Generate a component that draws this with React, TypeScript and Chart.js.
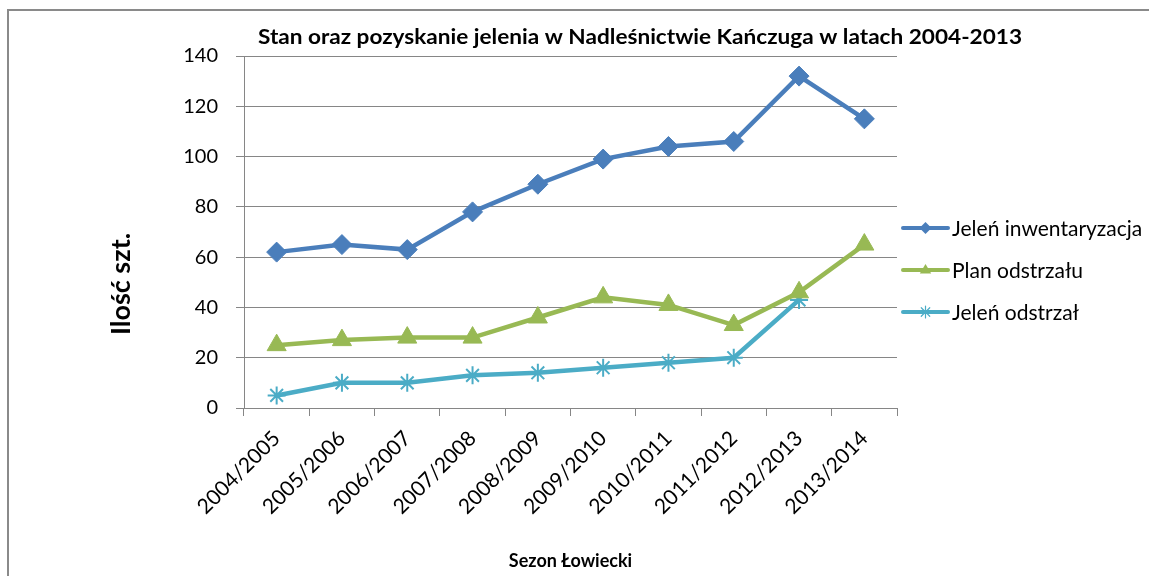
import React, { useEffect, useRef } from 'react';
import { Chart, registerables } from 'chart.js';

Chart.register(...registerables);

const categories = [
  '2004/2005', '2005/2006', '2006/2007', '2007/2008', '2008/2009',
  '2009/2010', '2010/2011', '2011/2012', '2012/2013', '2013/2014',
];
const seriesNames = ['Jeleń inwentaryzacja', 'Plan odstrzału', 'Jeleń odstrzał'];
const inwentaryzacja = [62, 65, 63, 78, 89, 99, 104, 106, 132, 115];
const planOdstrzalu = [25, 27, 28, 28, 36, 44, 41, 33, 46, 65];
const odstrzal = [5, 10, 10, 13, 14, 16, 18, 20, 43, null];
const yTicks = [0, 20, 40, 60, 80, 100, 120, 140];

const TITLE = 'Stan oraz pozyskanie jelenia w Nadleśnictwie Kańczuga w latach 2004-2013';
const Y_TITLE = 'Ilość szt.';
const X_TITLE = 'Sezon Łowiecki';

const FONT = 'Lato, "Open Sans", sans-serif';
const COLORS = ['#4A7EBB', '#98B954', '#4BACC6'];
const STYLES = ['rectRot', 'triangle', 'star'];
const GRID = '#868686';

function drawMarker(ctx: CanvasRenderingContext2D, style: string, cx: number, cy: number, r: number, color: string) {
  ctx.save();
  ctx.fillStyle = color;
  ctx.strokeStyle = color;
  ctx.beginPath();
  if (style === 'rectRot') {
    ctx.moveTo(cx, cy - r);
    ctx.lineTo(cx + r, cy);
    ctx.lineTo(cx, cy + r);
    ctx.lineTo(cx - r, cy);
    ctx.closePath();
    ctx.fill();
  } else if (style === 'triangle') {
    ctx.moveTo(cx, cy - r);
    ctx.lineTo(cx + r * 0.95, cy + r * 0.6);
    ctx.lineTo(cx - r * 0.95, cy + r * 0.6);
    ctx.closePath();
    ctx.fill();
  } else {
    ctx.lineWidth = 1.2;
    for (let i = 0; i < 4; i++) {
      const a = (i * Math.PI) / 4;
      ctx.moveTo(cx - Math.cos(a) * r, cy - Math.sin(a) * r);
      ctx.lineTo(cx + Math.cos(a) * r, cy + Math.sin(a) * r);
    }
    ctx.stroke();
  }
  ctx.restore();
}

function fillFitted(ctx: CanvasRenderingContext2D, text: string, cx: number, cy: number, width: number) {
  const w = ctx.measureText(text).width;
  ctx.save();
  ctx.translate(cx, cy);
  ctx.scale(width / w, 1);
  ctx.textAlign = 'center';
  ctx.fillText(text, 0, 0);
  ctx.restore();
}

const decorPlugin = {
  id: 'decor',
  afterDraw(chart: any) {
    const ctx: CanvasRenderingContext2D = chart.ctx;
    const area = chart.chartArea;
    ctx.save();
    ctx.fillStyle = '#000';
    ctx.textAlign = 'center';
    ctx.textBaseline = 'middle';
    ctx.font = `bold 21px ${FONT}`;
    fillFitted(ctx, TITLE, 640, 37, 764);

    ctx.font = `bold 18px ${FONT}`;
    ctx.fillText(X_TITLE, (area.left + area.right) / 2, 561);

    ctx.save();
    ctx.translate(121, 284);
    ctx.rotate(-Math.PI / 2);
    ctx.font = `bold 27px ${FONT}`;
    ctx.fillText(Y_TITLE, 0, 0);
    ctx.restore();

    // legend
    chart.data.datasets.forEach((ds: any, i: number) => {
      const y = 228 + i * 42;
      ctx.beginPath();
      ctx.strokeStyle = ds.borderColor;
      ctx.lineWidth = 4;
      ctx.lineCap = 'round';
      ctx.moveTo(903, y);
      ctx.lineTo(948, y);
      ctx.stroke();
      drawMarker(ctx, ds.pointStyle, 925.5, y, 6, ds.borderColor);
      ctx.fillStyle = '#000';
      ctx.textAlign = 'left';
      ctx.font = `21px ${FONT}`;
      ctx.fillText(ds.label, 952, y + 1);
    });
    ctx.restore();
  },
};

export default function App() {
  const canvasRef = useRef<HTMLCanvasElement | null>(null);

  useEffect(() => {
    const canvas = canvasRef.current;
    if (!canvas) return;
    const seriesData = [inwentaryzacja, planOdstrzalu, odstrzal];
    const radii = [10, 11, 9];
    const chart = new Chart(canvas, {
      type: 'line',
      data: {
        labels: categories,
        datasets: seriesData.map((d, i) => ({
          label: seriesNames[i],
          data: d,
          borderColor: COLORS[i],
          backgroundColor: COLORS[i],
          pointBackgroundColor: COLORS[i],
          pointBorderColor: COLORS[i],
          pointStyle: STYLES[i] as any,
          pointRadius: radii[i],
          pointHoverRadius: radii[i],
          pointBorderWidth: i === 2 ? 2 : 1,
          borderWidth: 4.5,
          tension: 0,
          fill: false,
          spanGaps: false,
        })),
      },
      options: {
        responsive: false,
        animation: false,
        devicePixelRatio: 1,
        layout: { padding: { left: 144, top: 56, right: 252, bottom: 38 } },
        plugins: {
          legend: { display: false },
          title: { display: false },
          tooltip: { enabled: false },
        },
        scales: {
          x: {
            type: 'category',
            offset: true,
            grid: {
              display: true,
              drawOnChartArea: false,
              drawTicks: true,
              tickLength: 8,
              color: GRID,
              offset: true,
            },
            border: { display: true, color: GRID, width: 1 },
            ticks: {
              autoSkip: false,
              maxRotation: 45,
              minRotation: 45,
              padding: 10,
              color: '#000',
              font: { family: FONT, size: 21 },
            },
            afterFit: (s: any) => {
              s.height = 130;
            },
          },
          y: {
            min: 0,
            max: 140,
            grid: { color: GRID, tickLength: 8, lineWidth: 1 },
            border: { display: true, color: GRID, width: 1 },
            ticks: {
              stepSize: 20,
              padding: 18,
              color: '#000',
              font: { family: FONT, size: 20 },
            },
            afterBuildTicks: (s: any) => {
              s.ticks = yTicks.map((v) => ({ value: v }));
            },
            afterFit: (s: any) => {
              s.width = 100;
            },
          },
        },
      },
      plugins: [decorPlugin],
    });
    return () => chart.destroy();
  }, []);

  return (
    <div
      style={{
        position: 'fixed',
        left: 0,
        top: 0,
        width: 1149,
        height: 576,
        background: '#fff',
        overflow: 'hidden',
      }}
    >
      <div
        style={{
          position: 'absolute',
          left: 7,
          top: 9,
          width: 1200,
          height: 600,
          borderTop: '2px solid #8a8a8a',
          borderLeft: '2px solid #8a8a8a',
        }}
      />
      <canvas
        ref={canvasRef}
        width={1149}
        height={576}
        style={{ position: 'absolute', left: 0, top: 0, width: 1149, height: 576 }}
      />
    </div>
  );
}
